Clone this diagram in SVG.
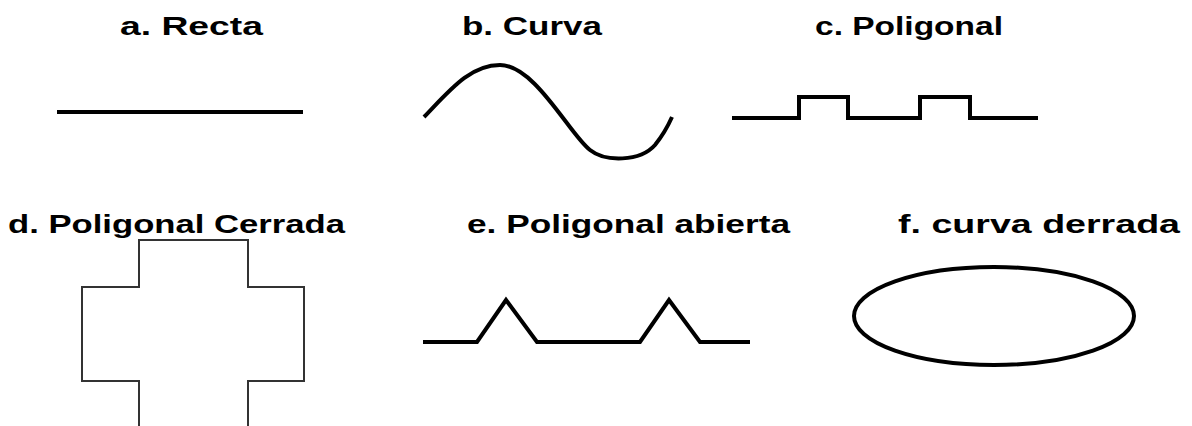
<svg xmlns="http://www.w3.org/2000/svg" width="1192" height="426" viewBox="0 0 1192 426">
<style>
.t{font-family:"Liberation Sans","DejaVu Sans",sans-serif;font-weight:bold;font-size:26px;fill:#000}
.s{fill:none;stroke:#000;stroke-width:4;stroke-linejoin:miter}
.thin{fill:none;stroke:#333;stroke-width:2}
</style>
<rect width="1192" height="426" fill="#fff"/>
<g id="recta">
<text class="t" x="120" y="35" textLength="143" lengthAdjust="spacingAndGlyphs">a. Recta</text>
<line class="s" x1="57" y1="112" x2="303" y2="112"/>
</g>
<g id="curva">
<text class="t" x="462" y="35" textLength="140" lengthAdjust="spacingAndGlyphs">b. Curva</text>
<path class="s" d="M424,117 C450,90 470,65 500,65 C535,65 570,135 590,150 C605,162 640,162 655,145 C663,135 668,126 672,117"/>
</g>
<g id="poligonal">
<text class="t" x="815" y="35" textLength="188" lengthAdjust="spacingAndGlyphs">c. Poligonal</text>
<path class="s" d="M732,118 H799 V97 H848 V118 H920 V97 H970 V118 H1038"/>
</g>
<g id="poligonal-cerrada">
<text class="t" x="8" y="233" textLength="337" lengthAdjust="spacingAndGlyphs">d. Poligonal Cerrada</text>
<path class="thin" d="M139,430 V381 H82 V287 H139 V240 H248 V287 H304 V381 H248 V430"/>
</g>
<g id="poligonal-abierta">
<text class="t" x="467" y="233" textLength="323" lengthAdjust="spacingAndGlyphs">e. Poligonal abierta</text>
<path class="s" d="M423,342 H477 L506,300 L537,342 H640 L669,300 L700,342 H750"/>
</g>
<g id="curva-cerrada">
<text class="t" x="898" y="233" textLength="282" lengthAdjust="spacingAndGlyphs">f. curva derrada</text>
<ellipse class="s" cx="994" cy="316" rx="140" ry="49"/>
</g>
</svg>
